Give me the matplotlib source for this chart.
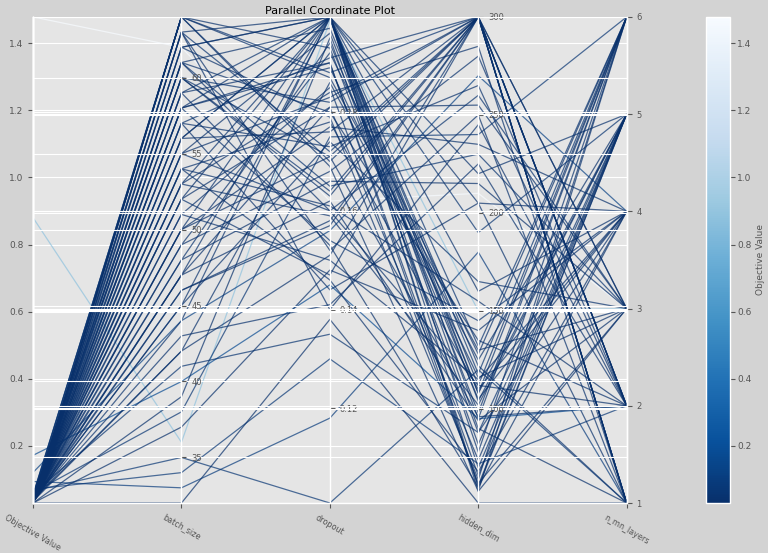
import matplotlib.pyplot as plt
import numpy as np
from matplotlib.collections import LineCollection
import matplotlib.cm as cm
import matplotlib.colors as mcolors

# trial values
objective = [1.478, 0.880, 0.172, 0.121, 0.094, 0.071, 0.066, 0.061, 0.058, 0.055,
             0.053, 0.051, 0.049, 0.048, 0.047, 0.046, 0.045, 0.044, 0.043, 0.042,
             0.042, 0.041, 0.040, 0.040, 0.039, 0.039, 0.038, 0.038, 0.037, 0.037,
             0.036, 0.036, 0.036, 0.035, 0.035, 0.035, 0.034, 0.034, 0.034, 0.034,
             0.033, 0.033, 0.033, 0.033, 0.033, 0.032, 0.032, 0.032, 0.032, 0.032,
             0.032, 0.031, 0.031, 0.031, 0.031, 0.031, 0.031, 0.031, 0.031, 0.030,
             0.030, 0.030, 0.030, 0.030, 0.030, 0.030, 0.030, 0.030, 0.030, 0.030,
             0.034, 0.033, 0.036, 0.039, 0.041, 0.032, 0.031, 0.035, 0.030, 0.031]
batch_size = [62, 36, 40, 44, 33, 34, 35, 38, 41, 64,
              64, 64, 63, 62, 61, 60, 59, 58, 57, 56,
              55, 54, 53, 52, 51, 50, 49, 48, 47, 46,
              45, 44, 43, 42, 64, 64, 63, 62, 61, 60,
              59, 58, 57, 56, 55, 54, 53, 52, 51, 50,
              49, 48, 47, 46, 64, 64, 63, 62, 61, 60,
              59, 58, 57, 39, 37, 32, 64, 56, 55, 53,
              50, 47, 45, 42, 60, 58, 54, 52, 63, 61]
dropout = [0.1620, 0.1985, 0.1450, 0.1560, 0.1180, 0.1300, 0.1008, 0.1750, 0.1350, 0.1993,
           0.1993, 0.1880, 0.1720, 0.1993, 0.1650, 0.1820, 0.1993, 0.1540, 0.1910, 0.1993,
           0.1600, 0.1780, 0.1993, 0.1470, 0.1850, 0.1993, 0.1680, 0.1940, 0.1993, 0.1580,
           0.1740, 0.1993, 0.1410, 0.1860, 0.1700, 0.1930, 0.1520, 0.1993, 0.1800, 0.1630,
           0.1900, 0.1993, 0.1440, 0.1760, 0.1960, 0.1610, 0.1840, 0.1993, 0.1500, 0.1710,
           0.1920, 0.1660, 0.1810, 0.1570, 0.1993, 0.1870, 0.1400, 0.1790, 0.1970, 0.1640,
           0.1530, 0.1890, 0.1730, 0.1950, 0.1480, 0.1380, 0.1690, 0.1993, 0.1830, 0.1590,
           0.1770, 0.1620, 0.1990, 0.1510, 0.1710, 0.1900, 0.1460, 0.1810, 0.1993, 0.1600]
hidden_dim = [210, 150, 95, 270, 180, 72, 120, 240, 88, 118,
              190, 300, 300, 132, 230, 300, 70, 145, 300, 95,
              260, 110, 220, 300, 62, 78, 280, 105, 104, 300,
              165, 58, 225, 125, 300, 88, 250, 112, 135, 300,
              66, 160, 205, 300, 98, 155, 285, 60, 115, 300,
              128, 215, 74, 300, 205, 130, 245, 64, 108, 300,
              60, 116, 265, 82, 140, 52, 58, 108, 300, 102,
              235, 94, 122, 300, 96, 61, 68, 255, 90, 112]
n_mn_layers = [3, 3, 2, 4, 1, 2, 1, 6, 5, 6,
               5, 2, 1, 6, 3, 1, 5, 4, 2, 6,
               3, 4, 5, 1, 3, 6, 2, 4, 5, 1,
               3, 6, 2, 5, 3, 4, 1, 6, 2, 2,
               5, 4, 1, 3, 6, 2, 1, 5, 4, 2,
               6, 3, 5, 1, 4, 3, 2, 6, 5, 1,
               4, 3, 2, 5, 4, 1, 3, 6, 2, 5,
               4, 3, 1, 6, 2, 5, 4, 3, 1, 2]

names = ['Objective Value', 'batch_size', 'dropout', 'hidden_dim', 'n_mn_layers']
params = [batch_size, dropout, hidden_dim, n_mn_layers]

plt.style.use('ggplot')
fig = plt.figure(figsize=(7.68, 5.53), dpi=100, facecolor='lightgray')
ax = fig.add_axes([0.043, 0.0904, 0.773, 0.879])

obj = np.array(objective)
omin, omax = obj.min(), obj.max()

# map every param into the objective range
cols = [obj]
for p in params:
    p = np.array(p, dtype=float)
    cols.append((p - p.min()) / (p.max() - p.min()) * (omax - omin) + omin)
ys = np.column_stack(cols)
xs = np.arange(len(names))
segments = [np.column_stack([xs, y]) for y in ys]

cmap = plt.get_cmap('Blues_r')
norm = mcolors.Normalize(omin, omax)
lc = LineCollection(segments, cmap=cmap, norm=norm, linewidths=0.9, alpha=0.7)
lc.set_array(obj)
ax.add_collection(lc)

ax.set_xlim(0, len(names) - 1)
ax.set_ylim(omin, omax)
ax.set_xticks(xs)
ax.set_xticklabels(names, rotation=330, fontsize=5.8)
ax.tick_params(axis='y', labelsize=6.5)
ax.spines['top'].set_visible(False)
ax.set_title('Parallel Coordinate Plot', fontsize=8, pad=2)

n = len(params)
for i, p in enumerate(params):
    ax2 = ax.twinx()
    ax2.set_ylim(min(p), max(p))
    ax2.spines['top'].set_visible(False)
    ax2.spines['bottom'].set_visible(False)
    ax2.xaxis.set_visible(False)
    ax2.spines['right'].set_position(('axes', (i + 1) / n))
    ax2.tick_params(axis='y', labelsize=6)

cax = fig.add_axes([0.919, 0.0904, 0.031, 0.879])
sm = cm.ScalarMappable(norm=norm, cmap=cmap)
cb = fig.colorbar(sm, cax=cax)
cb.set_label('Objective Value', fontsize=6.5, color='#555555', labelpad=3)
cb.ax.tick_params(labelsize=6.5, pad=2)

plt.savefig('out.png', dpi=100, facecolor=fig.get_facecolor())
